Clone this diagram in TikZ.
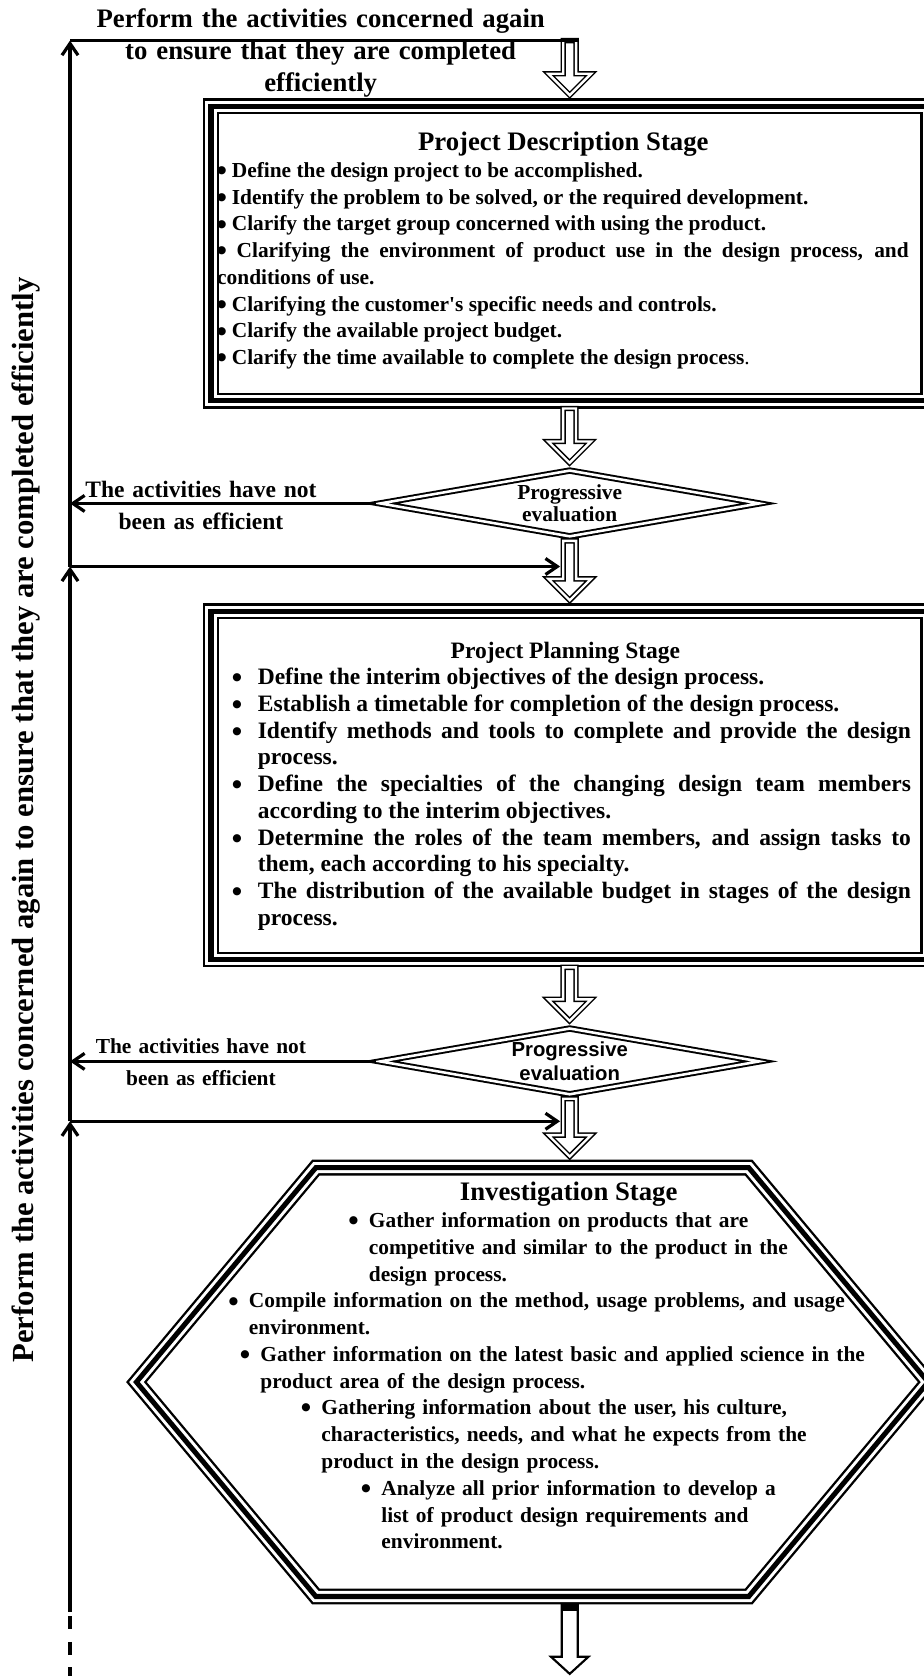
\documentclass[tikz,border=0pt]{standalone}
\usepackage{fontspec}
\setmainfont{Liberation Serif}
\newfontfamily\arialfont{Liberation Sans}
\newfontfamily\dotfont{DejaVu Sans}
\usepackage{tikz}
\usetikzlibrary{shapes.geometric,arrows.meta,positioning,calc}
\hyphenpenalty=10000
\exhyphenpenalty=10000
\newcommand{\dotmark}{{\dotfont\fontsize{10}{10}\selectfont\raisebox{3.5pt}{●}}}

\begin{document}
\begin{tikzpicture}[x=1pt, y=-1pt,
    >={Straight Barb[length=11pt,width=15pt]},
    flow/.style={line width=3pt},
    stageframe/.style={preaction={draw=black, line width=14.8pt}, draw=white, line width=10.4pt, postaction={draw=black, line width=4.7pt}},
    stagebox/.style={stageframe, rectangle, inner sep=0pt, outer sep=7.4pt},
    evalbox/.style={diamond, draw, double, line width=1.8pt, double distance=2.4pt, aspect=5.6, minimum width=357pt, minimum height=64pt, inner sep=0pt, outer sep=3pt, align=center},
    hollow/.style={draw, double, line width=1.4pt, double distance=2.2pt},
    stagetitle/.style={anchor=base, inner sep=0pt, font=\fontsize{25}{30}\selectfont\bfseries},
    itemlist/.style={anchor=base west, inner sep=0pt, align=left, text width=600pt, font=\fontsize{20}{25}\selectfont\bfseries},
    note/.style={anchor=base, inner sep=0pt, align=center, text width=320pt}
  ]
    \useasboundingbox (0,0) rectangle (864,1568);

    % Loop caption (top)
    \node[note, text width=500pt, font=\fontsize{25}{30}\selectfont\bfseries] (again) at (300,26) {Perform the activities concerned again\\to ensure that they are completed\\efficiently};

    % Loop caption (left side)
    \node[rotate=90, anchor=base, inner sep=0pt, font=\fontsize{28.7}{30}\selectfont\bfseries] (sidenote) at (31,767) {Perform the activities concerned again to ensure that they are completed efficiently};

    % Stage 1 - Project Description
    \node[stagebox, minimum width=670.9pt, minimum height=275.4pt] (desc) at (532.85,237.1) {};
    \node[stagetitle] (desctitle) at (527,140.5) {Project Description Stage};
    \node[itemlist, text width=647pt, align=justify] (desclist) at (203,166) {%
      \dotmark\ Define the design project to be accomplished.\par
      \dotmark\ Identify the problem to be solved, or the required development.\par
      \dotmark\ Clarify the target group concerned with using the product.\par
      \dotmark\ Clarifying the environment of product use in the design process, and conditions of use.\par
      \dotmark\ Clarifying the customer\textquotesingle s specific needs and controls.\par
      \dotmark\ Clarify the available project budget.\par
      \dotmark\ Clarify the time available to complete the design process{\mdseries .}\par
    };

    % Evaluation 1
    \node[evalbox, font=\fontsize{20}{21}\selectfont\bfseries] (eval1) at (533,471) {Progressive\\evaluation};
    \node[note, font=\fontsize{22}{30}\selectfont\bfseries] (fail1) at (188,465.6) {The activities have not\\been as efficient};

    % Stage 2 - Project Planning
    \node[stagebox, minimum width=670.9pt, minimum height=325.6pt] (plan) at (532.85,734.8) {};
    \node[stagetitle, font=\fontsize{22}{25}\selectfont\bfseries] (plantitle) at (529,616) {Project Planning Stage};
    \node[itemlist, text width=635pt, align=justify, font=\fontsize{22}{25}\selectfont\bfseries] (planlist) at (217,640.6) {%
      \leftskip=24pt
      \noindent\llap{\dotmark\hspace{15pt}}Define the interim objectives of the design process.\par
      \noindent\llap{\dotmark\hspace{15pt}}Establish a timetable for completion of the design process.\par
      \noindent\llap{\dotmark\hspace{15pt}}Identify methods and tools to complete and provide the design process.\par
      \noindent\llap{\dotmark\hspace{15pt}}Define the specialties of the changing design team members according to the interim objectives.\par
      \noindent\llap{\dotmark\hspace{15pt}}Determine the roles of the team members, and assign tasks to\linebreak them, each according to his specialty.\par
      \noindent\llap{\dotmark\hspace{15pt}}The distribution of the available budget in stages of the design process.\par
    };

    % Evaluation 2
    \node[evalbox, font=\arialfont\fontsize{19}{22}\selectfont\bfseries] (eval2) at (533,993) {Progressive\\evaluation};
    \node[note, font=\fontsize{20}{30}\selectfont\bfseries] (fail2) at (188,986) {The activities have not\\been as efficient};

    % Stage 3 - Investigation (hexagon)
    \draw[stageframe] (295.5,1092.4) -- (700.5,1092.4) -- (868.35,1293) -- (700.5,1493.6) -- (295.5,1493.6) -- (127.65,1293) -- cycle;
    \coordinate (invtop) at (533,1085);
    \coordinate (invbot) at (533,1501);
    \node[stagetitle] (invtitle) at (532,1123) {Investigation Stage};
    \node[itemlist] (inv1) at (345,1148.6) {\llap{\dotmark\hspace{10pt}}Gather information on products that are\\competitive and similar to the product in the\\design process.};
    \node[itemlist] (inv2) at (232.7,1223.5) {\llap{\dotmark\hspace{10pt}}Compile information on the method, usage problems, and usage\\environment.};
    \node[itemlist] (inv3) at (243.5,1273.7) {\llap{\dotmark\hspace{10pt}}Gather information on the latest basic and applied science in the\\product area of the design process.};
    \node[itemlist] (inv4) at (300.5,1323.4) {\llap{\dotmark\hspace{10pt}}Gathering information about the user, his culture,\\characteristics, needs, and what he expects from the\\product in the design process.};
    \node[itemlist] (inv5) at (356.7,1399) {\llap{\dotmark\hspace{10pt}}Analyze all prior information to develop a\\list of product design requirements and\\environment.};

    % Hollow arrows between the stages
    \coordinate (topin) at (533,38);
    \foreach \src/\dst in {topin/desc.north, desc.south/eval1.north, eval1.south/plan.north, plan.south/eval2.north, eval2.south/invtop}
        \draw[hollow] let \p1=(\src), \p2=(\dst) in
            ({\x1-6pt},\y1) -- ({\x1+6pt},\y1) -- ({\x1+6pt},{\y2+23pt}) -- ({\x1+20pt},{\y2+23pt})
            -- (\x1,{\y2+3pt}) -- ({\x1-20pt},{\y2+23pt}) -- ({\x1-6pt},{\y2+23pt}) -- cycle;

    % Last arrow, leaving the investigation stage
    \coordinate (endbot) at (533,1567);
    \draw[line width=2pt] let \p1=(invbot), \p2=(endbot) in
        ({\x1-7.5pt},\y1) -- ({\x1+7.5pt},\y1) -- ({\x1+7.5pt},{\y2+17pt}) -- ({\x1+17.5pt},{\y2+17pt})
        -- (\x1,{\y2+1pt}) -- ({\x1-17.5pt},{\y2+17pt}) -- ({\x1-7.5pt},{\y2+17pt}) -- cycle;
    \fill let \p1=(invbot) in ({\x1-8.5pt},\y1) rectangle ({\x1+8.5pt},{\y1-6pt});

    % Feedback loop on the left
    \coordinate (loopTL) at (65.5,38);
    \coordinate (j1) at (65.5,530);
    \coordinate (j2) at (65.5,1049);
    \coordinate (dashtop) at (65.5,1508);
    \coordinate (dashend) at (65.5,1568);
    \draw[flow] (loopTL) -- ([xshift=8.5pt]topin);
    \draw[flow,->] (j1) -- (loopTL);
    \draw[flow,->] (j2) -- (j1);
    \draw[flow,->] (dashtop) -- (j2);
    \draw[flow, dash pattern=on 12pt off 12pt] ([yshift=-4pt]dashtop) -- (dashend);
    \draw[flow,->] (eval1.west) -- (eval1.west -| loopTL);
    \draw[flow,->] (eval2.west) -- (eval2.west -| loopTL);
    \draw[flow,->] (j1) -- ($(j1 -| eval1.south)+(-9,0)$);
    \draw[flow,->] (j2) -- ($(j2 -| eval2.south)+(-9,0)$);
\end{tikzpicture}
\end{document}
